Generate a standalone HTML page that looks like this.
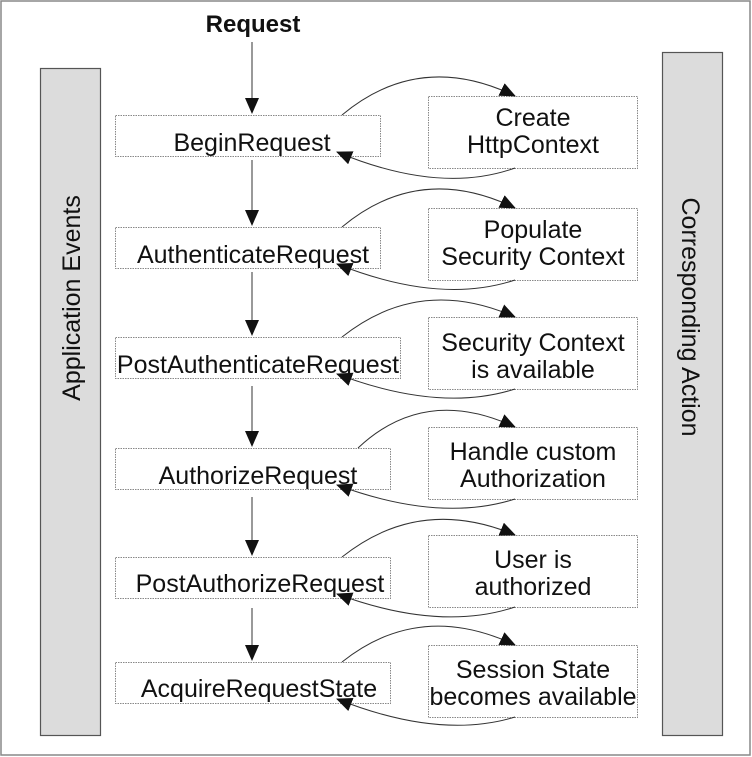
<!DOCTYPE html>
<html><head><meta charset="utf-8"><style>
html,body{margin:0;padding:0;background:#fff}
svg{display:block;font-family:"Liberation Sans",Arial,sans-serif}
</style></head><body>
<svg width="752" height="757" viewBox="0 0 752 757" xmlns="http://www.w3.org/2000/svg">
<defs>
<marker id="b" markerWidth="16" markerHeight="14" refX="15" refY="7" orient="auto" markerUnits="userSpaceOnUse" viewBox="0 0 16 14">
<path d="M0,0 L16,7 L0,14 z" fill="#111"/></marker>
</defs>
<rect x="1" y="1" width="749" height="754" fill="#fff" stroke="#888" stroke-width="1.5"/>
<rect x="40.5" y="68.5" width="60" height="667" fill="#dcdcdc" stroke="#555" stroke-width="1.2"/>
<rect x="662.5" y="52.5" width="60" height="683" fill="#dcdcdc" stroke="#555" stroke-width="1.2"/>
<text transform="translate(80,298) rotate(-90)" text-anchor="middle" font-size="25" fill="#111">Application Events</text>
<text transform="translate(682,317) rotate(90)" text-anchor="middle" font-size="25" fill="#111">Corresponding Action</text>
<text x="253" y="32" text-anchor="middle" font-size="24" font-weight="bold" fill="#111">Request</text>
<g fill="#fff" stroke="#888" stroke-width="1" stroke-dasharray="1.5,1">
<rect x="115.5" y="115.5" width="265" height="41"/>
<rect x="115.5" y="227.5" width="265" height="41"/>
<rect x="115.5" y="337.5" width="285" height="41"/>
<rect x="115.5" y="448.5" width="275" height="41"/>
<rect x="115.5" y="557.5" width="275" height="41"/>
<rect x="115.5" y="662.5" width="275" height="41"/>
<rect x="428.5" y="96.5" width="209" height="72"/>
<rect x="428.5" y="208.5" width="209" height="72"/>
<rect x="428.5" y="317.5" width="209" height="72"/>
<rect x="428.5" y="427.5" width="209" height="72"/>
<rect x="428.5" y="535.5" width="209" height="72"/>
<rect x="428.5" y="645.5" width="209" height="72"/>
</g>
<g font-size="25" fill="#111" text-anchor="middle">
<text x="252" y="151">BeginRequest</text>
<text x="253" y="263">AuthenticateRequest</text>
<text x="258" y="373">PostAuthenticateRequest</text>
<text x="258" y="484">AuthorizeRequest</text>
<text x="260" y="592">PostAuthorizeRequest</text>
<text x="259" y="697">AcquireRequestState</text>
<text x="533" y="126">Create</text><text x="533" y="153">HttpContext</text>
<text x="533" y="238">Populate</text><text x="533" y="265">Security Context</text>
<text x="533" y="351">Security Context</text><text x="533" y="378">is available</text>
<text x="533" y="460">Handle custom</text><text x="533" y="487">Authorization</text>
<text x="533" y="568">User is</text><text x="533" y="595">authorized</text>
<text x="533" y="678">Session State</text><text x="533" y="705">becomes available</text>
</g>
<g stroke="#333" stroke-width="1" fill="none">
<line x1="252" y1="42" x2="252" y2="113" marker-end="url(#b)"/>
<line x1="252" y1="160" x2="252" y2="225" marker-end="url(#b)"/>
<line x1="252" y1="272" x2="252" y2="335" marker-end="url(#b)"/>
<line x1="252" y1="386" x2="252" y2="446" marker-end="url(#b)"/>
<line x1="252" y1="497" x2="252" y2="555" marker-end="url(#b)"/>
<line x1="252" y1="608" x2="252" y2="660" marker-end="url(#b)"/>

<path d="M342,115 Q420,50 515,96" marker-end="url(#b)"/>
<path d="M515,168 Q440,195 337,152" marker-end="url(#b)"/>
<path d="M342,227 Q420,162 515,208" marker-end="url(#b)"/>
<path d="M515,280 Q440,305 337,264" marker-end="url(#b)"/>
<path d="M342,337 Q420,275 515,317" marker-end="url(#b)"/>
<path d="M515,389 Q440,413 337,374" marker-end="url(#b)"/>
<path d="M358,448 Q425,385 515,427" marker-end="url(#b)"/>
<path d="M515,499 Q440,523 337,485" marker-end="url(#b)"/>
<path d="M342,557 Q420,495 515,535" marker-end="url(#b)"/>
<path d="M515,607 Q440,632 337,594" marker-end="url(#b)"/>
<path d="M342,662 Q420,600 515,645" marker-end="url(#b)"/>
<path d="M515,717 Q440,740 337,699" marker-end="url(#b)"/>
</g>
</svg>
</body></html>
